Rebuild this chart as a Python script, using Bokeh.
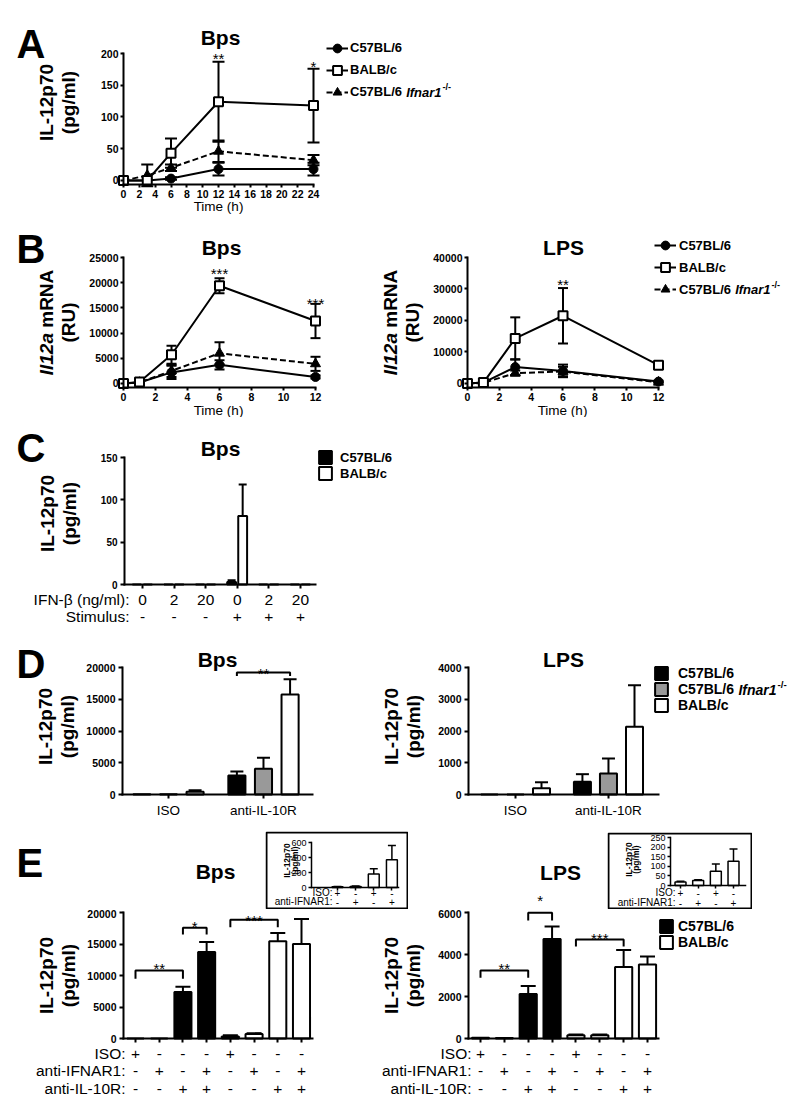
import math
from bokeh.plotting import figure
from bokeh.models import (Range1d, Label, Legend, LegendItem, Whisker, TeeHead,
                          ColumnDataSource, FixedTicker, Spacer, BoxAnnotation,
                          CustomJSTickFormatter)
from bokeh.layouts import column, row
from bokeh.embed import file_html
from bokeh.resources import INLINE

FONT = "Liberation Sans"
PI2 = math.pi / 2

# ====================== DATA ======================
# Panel A  (IL-12p70, pg/ml, Bps)
a_time = [0, 3, 6, 12, 24]
a_b6 = [0, 0, 3, 18, 18]
a_b6_sem = [0, 0, 2, 10, 10]
a_balb = [0, 0, 43, 124, 118]
a_balb_sem = [0, 0, 23, 63, 58]
a_ifnar = [0, 8, 20, 46, 32]
a_ifnar_sem = [0, 17, 5, 17, 8]
a_xticks = list(range(0, 25, 2))
a_yticks = [0, 50, 100, 150, 200]

# Panel B  (Il12a mRNA, RU)
b_time = [0, 1, 3, 6, 12]
b_bps_b6 = [0, 200, 2200, 3700, 1300]
b_bps_b6_sem = [0, 0, 1300, 900, 300]
b_bps_balb = [0, 300, 5700, 19400, 12400]
b_bps_balb_sem = [0, 100, 1800, 1500, 3400]
b_bps_ifnar = [0, 200, 2500, 6000, 3900]
b_bps_ifnar_sem = [0, 0, 1200, 2200, 1400]
b_lps_b6 = [0, 300, 5200, 4000, 600]
b_lps_b6_sem = [0, 0, 2500, 2000, 300]
b_lps_balb = [0, 300, 14300, 21500, 5800]
b_lps_balb_sem = [0, 0, 6700, 8800, 700]
b_lps_ifnar = [0, 200, 3300, 3800, 400]
b_lps_ifnar_sem = [0, 0, 800, 1500, 200]
b_xticks = [0, 2, 4, 6, 8, 10, 12]
b_bps_yticks = [0, 5000, 10000, 15000, 20000, 25000]
b_lps_yticks = [0, 10000, 20000, 30000, 40000]

# Panel C
c_ifn = ["0", "2", "20", "0", "2", "20"]
c_stim = ["-", "-", "-", "+", "+", "+"]
c_b6 = [0, 0, 0, 3, 0, 0]
c_b6_sem = [0, 0, 0, 2, 0, 0]
c_balb = [0, 0, 0, 81, 0, 0]
c_balb_sem = [0, 0, 0, 37, 0, 0]
c_yticks = [0, 50, 100, 150]

# Panel D
d_groups = ["ISO", "anti-IL-10R"]
d_bps_b6 = [30, 3000]
d_bps_b6_sem = [0, 620]
d_bps_ifnar = [30, 4050]
d_bps_ifnar_sem = [0, 1750]
d_bps_balb = [450, 15750]
d_bps_balb_sem = [200, 2400]
d_lps_b6 = [0, 400]
d_lps_b6_sem = [0, 240]
d_lps_ifnar = [0, 660]
d_lps_ifnar_sem = [0, 470]
d_lps_balb = [200, 2130]
d_lps_balb_sem = [185, 1310]
d_bps_yticks = [0, 5000, 10000, 15000, 20000]
d_lps_yticks = [0, 1000, 2000, 3000, 4000]

# Panel E
e_iso = ["+", "-", "-", "-", "+", "-", "-", "-"]
e_ifnar = ["-", "+", "-", "+", "-", "+", "-", "+"]
e_il10r = ["-", "-", "+", "+", "-", "-", "+", "+"]
e_bps = [0, 0, 7400, 13750, 300, 700, 15450, 15000]
e_bps_sem = [0, 0, 800, 1550, 200, 150, 1300, 3950]
e_lps = [30, 20, 2120, 4740, 150, 150, 3400, 3520]
e_lps_sem = [0, 0, 380, 590, 40, 40, 820, 380]
e_bps_yticks = [0, 5000, 10000, 15000, 20000]
e_lps_yticks = [0, 2000, 4000, 6000]
# significance brackets: (bar from, bar to, top value, leg end value, label)
e_bps_brackets = [(0, 2, 10800, 9500, "**"), (2, 3, 17570, 16500, "*"), (4, 6, 18840, 17670, "***")]
e_lps_brackets = [(0, 2, 3240, 2890, "**"), (2, 3, 5985, 5620, "*"), (4, 6, 4715, 4380, "***")]
d_bps_bracket = (1 - 0.28, 1 + 0.28, 19200, 18650, "**")

# Insets (BALB/c)
inset_iso = ["+", "-", "+", "-"]
inset_ifnar = ["-", "+", "-", "+"]
inset_bps = [10, 15, 180, 370]
inset_bps_sem = [5, 5, 70, 190]
inset_lps = [18, 26, 74, 126]
inset_lps_sem = [4, 4, 38, 64]
inset_bps_yticks = [0, 200, 400, 600]
inset_lps_yticks = [0, 50, 100, 150, 200, 250]


# ====================== HELPERS ======================
class Pan:
    """A figure whose drawing area is the whole canvas; the 'plot frame' (fl,ft,fr,fb)
    maps the ranges xr, yr and the axes are pinned to it with fixed_location."""

    def __init__(self, ox, oy, w, h, frame=None, xr=None, yr=None, axes=True):
        if frame is None:
            frame = (ox, oy, ox + w, oy + h)
        if xr is None:
            xr = (0, w)
        if yr is None:
            yr = (0, h)
        self.ox, self.oy, self.w, self.h = ox, oy, w, h
        self.fl, self.ft, self.fr, self.fb = frame
        self.xr, self.yr = xr, yr
        kw = {}
        if not axes:
            kw = dict(x_axis_location=None, y_axis_location=None)
        p = figure(width=w, height=h,
                   x_range=Range1d(self.X(ox), self.X(ox + w)),
                   y_range=Range1d(self.Y(oy + h), self.Y(oy)),
                   min_border_left=0, min_border_right=0,
                   min_border_top=0, min_border_bottom=0,
                   toolbar_location=None, tools="", output_backend="svg", **kw)
        p.outline_line_color = None
        p.grid.visible = False
        p.border_fill_color = None
        p.background_fill_color = None
        self.p = p

    def X(self, sx):
        return self.xr[0] + (sx - self.fl) / (self.fr - self.fl) * (self.xr[1] - self.xr[0])

    def Y(self, sy):
        return self.yr[0] + (self.fb - sy) / (self.fb - self.ft) * (self.yr[1] - self.yr[0])

    def SX(self, x):
        return self.fl + (x - self.xr[0]) / (self.xr[1] - self.xr[0]) * (self.fr - self.fl)

    def pin_axes(self, yaxis_x, xaxis_y, xbounds, ybounds):
        self.p.yaxis.fixed_location = yaxis_x
        self.p.xaxis.fixed_location = xaxis_y
        self.p.xaxis.bounds = xbounds
        self.p.yaxis.bounds = ybounds

    def lab(self, x, y, text, size, style="normal", align="center", baseline="middle",
            angle=0, xdata=False):
        xx = x if xdata else self.X(x)
        self.p.add_layout(Label(x=xx, y=self.Y(y), text=text, text_font=FONT,
                                text_font_size=f"{size}px", text_font_style=style,
                                text_align=align, text_baseline=baseline, angle=angle,
                                text_color="black"))


def style_axes(p, size=10.5, style="bold", lw=2, tick_out=4, standoff=3):
    for ax in p.axis:
        ax.axis_line_width = lw
        ax.axis_line_color = "black"
        ax.axis_line_cap = "square"
        ax.major_tick_line_width = lw
        ax.major_tick_line_color = "black"
        ax.major_tick_in = 0
        ax.major_tick_out = tick_out
        ax.minor_tick_line_color = None
        ax.major_label_text_font = FONT
        ax.major_label_text_font_size = f"{size}px"
        ax.major_label_text_font_style = style
        ax.major_label_text_color = "black"
        ax.major_label_standoff = standoff


def line_series(pan, x, y, sem, marker, fill, dash, size, cap):
    idx = [i for i, s in enumerate(sem) if s > 0]
    if idx:
        wsrc = ColumnDataSource(dict(x=[x[i] for i in idx],
                                     lo=[y[i] - sem[i] for i in idx],
                                     hi=[y[i] + sem[i] for i in idx]))
        pan.p.add_layout(Whisker(source=wsrc, base="x", lower="lo", upper="hi",
                                 dimension="height", line_color="black", line_width=2,
                                 upper_head=TeeHead(size=cap, line_width=2, line_color="black"),
                                 lower_head=TeeHead(size=cap, line_width=2, line_color="black")))
    src = ColumnDataSource(dict(x=x, y=y))
    lr = pan.p.line("x", "y", source=src, line_color="black", line_width=2, line_dash=dash)
    sr = pan.p.scatter("x", "y", source=src, marker=marker, size=size, fill_color=fill,
                       line_color="black", line_width=2 if fill == "white" else 1)
    return [lr, sr]


def bar_series(pan, x, tops, sems, width, fill, lw=2, cap=12):
    src = ColumnDataSource(dict(x=x, top=tops))
    r = pan.p.vbar(x="x", top="top", bottom=0, width=width, source=src,
                   fill_color=fill, line_color="black", line_width=lw)
    idx = [i for i, s in enumerate(sems) if s > 0]
    if idx:
        wsrc = ColumnDataSource(dict(x=[x[i] for i in idx], lo=[tops[i] for i in idx],
                                     hi=[tops[i] + sems[i] for i in idx]))
        pan.p.add_layout(Whisker(source=wsrc, base="x", lower="lo", upper="hi",
                                 dimension="height", line_color="black", line_width=lw,
                                 lower_head=None,
                                 upper_head=TeeHead(size=cap, line_width=lw, line_color="black")))
    return r


def add_legend(pan, items, left, first_cy, pitch, gw, gh, fs, standoff):
    n = len(items)
    spacing = pitch - gh
    height = n * gh + (n - 1) * spacing
    top = first_cy - gh / 2
    bottom = top + height
    lg = Legend(items=items, location=(left - pan.ox, pan.oy + pan.h - bottom),
                orientation="vertical",
                glyph_width=gw, glyph_height=gh, label_height=gh, label_standoff=standoff,
                spacing=spacing, padding=0, margin=0, border_line_color=None,
                background_fill_alpha=0, label_text_font=FONT, label_text_font_style="bold",
                label_text_font_size=f"{fs}px", label_text_color="black")
    pan.p.add_layout(lg)
    return left + gw + standoff


def ifnar_suffix(pan, text_x, cy, fs):
    x = text_x + (4.001 + 0.278) * fs
    pan.lab(x, cy, "Ifnar1", fs, "bold italic", align="left")
    x2 = x + 2.723 * fs + 1
    pan.lab(x2, cy - fs * 0.35, "-/-", round(fs * 0.7, 1), "bold", align="left")


def ylab(pan, axis_sx, cy, line2, line1="IL-12p70", italic=None, size=19):
    x1 = axis_sx - 77
    x2 = axis_sx - 55
    if italic is None:
        pan.lab(x1, cy, line1, size, "bold", angle=PI2)
    else:
        w1 = 2.224 * size
        ws = 0.278 * size
        w2 = 3.055 * size
        start = cy + (w1 + ws + w2) / 2
        pan.lab(x1, start, italic, size, "bold italic", align="left", angle=PI2)
        pan.lab(x1, start - w1 - ws, line1, size, "bold", align="left", angle=PI2)
    pan.lab(x2, cy, line2, size, "bold", angle=PI2)


def blank_x(p, ticks):
    p.xaxis.ticker = FixedTicker(ticks=ticks)
    p.xaxis.formatter = CustomJSTickFormatter(code="return ''")


def bracket(pan, x1, x2, top, leg):
    pan.p.multi_line(xs=[[x1, x1, x2, x2]], ys=[[leg, top, top, leg]],
                     line_color="black", line_width=2)


# ====================== PANEL A ======================
A = Pan(0, 0, 800, 222, frame=(120, 53, 313, 184), xr=(-0.38, 24), yr=(-6.3, 200))
rA = []
rA.append(line_series(A, a_time, a_b6, a_b6_sem, "circle", "black", "solid", 9, 12))
rA.append(line_series(A, a_time, a_ifnar, a_ifnar_sem, "triangle", "black", "6 3", 10, 12))
rA.append(line_series(A, a_time, a_balb, a_balb_sem, "square", "white", "solid", 9, 12))
style_axes(A.p, tick_out=3, standoff=2)
A.p.xaxis.ticker = FixedTicker(ticks=a_xticks)
A.p.yaxis.ticker = FixedTicker(ticks=a_yticks)
A.pin_axes(0, -6.3, (0, 24), (-6.3, 200))
A.lab(16, 43, "A", 40, "bold", align="left", baseline="alphabetic")
A.lab(220, 37, "Bps", 21, "bold", baseline="alphabetic")
A.lab(218, 206, "Time (h)", 13.5)
ylab(A, 123, 102, "(pg/ml)")
A.lab(12, 58, "**", 15, baseline="alphabetic", xdata=True)
A.lab(24, 66, "*", 15, baseline="alphabetic", xdata=True)
tx = add_legend(A, [LegendItem(label="C57BL/6", renderers=rA[0]),
                    LegendItem(label="BALB/c", renderers=rA[2]),
                    LegendItem(label="C57BL/6", renderers=rA[1])],
                326, 61.5, 15, 22, 22, 13, 2)
ifnar_suffix(A, tx, 61.5 + 30, 13)

# ====================== PANEL B ======================
BL = Pan(0, 222, 372, 195, frame=(120, 257, 315, 387), xr=(-0.1875, 12), yr=(-794, 25000))
line_series(BL, b_time, b_bps_b6, b_bps_b6_sem, "circle", "black", "solid", 9, 10)
line_series(BL, b_time, b_bps_ifnar, b_bps_ifnar_sem, "triangle", "black", "6 3", 10, 10)
line_series(BL, b_time, b_bps_balb, b_bps_balb_sem, "square", "white", "solid", 9, 10)
style_axes(BL.p, tick_out=3, standoff=2)
BL.p.xaxis.ticker = FixedTicker(ticks=b_xticks)
BL.p.yaxis.ticker = FixedTicker(ticks=b_bps_yticks)
BL.pin_axes(0, -794, (0, 12), (-794, 25000))
BL.lab(16, 248, "B", 40, "bold", align="left", baseline="alphabetic")
BL.lab(221, 247, "Bps", 21, "bold", baseline="alphabetic")
BL.lab(218, 410, "Time (h)", 13.5)
ylab(BL, 123, 322, "(RU)", line1="mRNA", italic="Il12a")
BL.lab(6, 273, "***", 15, baseline="alphabetic", xdata=True)
BL.lab(12, 303, "***", 15, baseline="alphabetic", xdata=True)

BR = Pan(372, 222, 428, 195, frame=(464, 257, 658, 387), xr=(-0.188, 12), yr=(-1270, 40000))
rB = []
rB.append(line_series(BR, b_time, b_lps_b6, b_lps_b6_sem, "circle", "black", "solid", 9, 10))
rB.append(line_series(BR, b_time, b_lps_ifnar, b_lps_ifnar_sem, "triangle", "black", "6 3", 10, 10))
rB.append(line_series(BR, b_time, b_lps_balb, b_lps_balb_sem, "square", "white", "solid", 9, 10))
style_axes(BR.p, tick_out=3, standoff=2)
BR.p.xaxis.ticker = FixedTicker(ticks=b_xticks)
BR.p.yaxis.ticker = FixedTicker(ticks=b_lps_yticks)
BR.pin_axes(0, -1270, (0, 12), (-1270, 40000))
BR.lab(563, 247, "LPS", 21, "bold", baseline="alphabetic")
BR.lab(562, 410, "Time (h)", 13.5)
ylab(BR, 467, 322, "(RU)", line1="mRNA", italic="Il12a")
BR.lab(6, 284, "**", 15, baseline="alphabetic", xdata=True)
tx = add_legend(BR, [LegendItem(label="C57BL/6", renderers=rB[0]),
                     LegendItem(label="BALB/c", renderers=rB[2]),
                     LegendItem(label="C57BL/6", renderers=rB[1])],
                654, 259, 15, 22, 22, 13, 3)
ifnar_suffix(BR, tx, 259 + 30, 13)

# ====================== PANEL C ======================
C = Pan(0, 417, 800, 211, frame=(124, 457, 315, 584), xr=(-0.57, 5.475), yr=(0, 150))
cx = list(range(len(c_ifn)))
rc1 = bar_series(C, [i - 0.18 for i in cx], c_b6, c_b6_sem, 0.28, "black", cap=8)
rc2 = bar_series(C, [i + 0.17 for i in cx], c_balb, c_balb_sem, 0.28, "white", cap=8)
style_axes(C.p, size=10, tick_out=4, standoff=3)
C.p.yaxis.ticker = FixedTicker(ticks=c_yticks)
blank_x(C.p, cx)
C.pin_axes(-0.57, 0, (-0.57, 5.475), (0, 150))
C.lab(16, 447, "C", 40, "bold", align="left", baseline="alphabetic")
C.lab(220, 448, "Bps", 21, "bold", baseline="alphabetic")
ylab(C, 124, 513, "(pg/ml)")
C.lab(129, 599, "IFN-\u03b2 (ng/ml):", 15.5, align="right")
C.lab(129, 616, "Stimulus:", 15.5, align="right")
for i in cx:
    C.lab(i, 599, c_ifn[i], 15.5, xdata=True)
    C.lab(i, 616, c_stim[i], 15.5, xdata=True)
add_legend(C, [LegendItem(label="C57BL/6", renderers=[rc1]),
               LegendItem(label="BALB/c", renderers=[rc2])],
           317, 459, 14, 16, 16, 13, 7)

# ====================== PANEL D ======================
doff = [-0.28, 0, 0.28]
gx = list(range(len(d_groups)))
DL = Pan(0, 628, 372, 194, frame=(122, 667, 312, 794), xr=(-0.484, 1.516), yr=(0, 20000))
bar_series(DL, [g + doff[0] for g in gx], d_bps_b6, d_bps_b6_sem, 0.18, "black", cap=13)
bar_series(DL, [g + doff[1] for g in gx], d_bps_ifnar, d_bps_ifnar_sem, 0.18, "#999999", cap=13)
bar_series(DL, [g + doff[2] for g in gx], d_bps_balb, d_bps_balb_sem, 0.18, "white", cap=13)
style_axes(DL.p)
DL.p.yaxis.ticker = FixedTicker(ticks=d_bps_yticks)
blank_x(DL.p, gx)
DL.pin_axes(-0.484, 0, (-0.484, 1.516), (0, 20000))
DL.lab(16, 663, "D", 40, "bold", align="left", baseline="alphabetic")
DL.lab(217, 659, "Bps", 21, "bold", baseline="alphabetic")
ylab(DL, 122, 726, "(pg/ml)")
for g in gx:
    DL.lab(g, 810, d_groups[g], 13.5, xdata=True)
bracket(DL, d_bps_bracket[0], d_bps_bracket[1], d_bps_bracket[2], d_bps_bracket[3])
DL.lab(1, 673, d_bps_bracket[4], 15, baseline="alphabetic", xdata=True)

DR = Pan(372, 628, 428, 194, frame=(468, 667, 658, 794), xr=(-0.505, 1.538), yr=(0, 4000))
rd1 = bar_series(DR, [g + doff[0] for g in gx], d_lps_b6, d_lps_b6_sem, 0.183, "black", cap=13)
rd2 = bar_series(DR, [g + doff[1] for g in gx], d_lps_ifnar, d_lps_ifnar_sem, 0.183, "#999999", cap=13)
rd3 = bar_series(DR, [g + doff[2] for g in gx], d_lps_balb, d_lps_balb_sem, 0.183, "white", cap=13)
style_axes(DR.p)
DR.p.yaxis.ticker = FixedTicker(ticks=d_lps_yticks)
blank_x(DR.p, gx)
DR.pin_axes(-0.505, 0, (-0.505, 1.538), (0, 4000))
DR.lab(563, 659, "LPS", 21, "bold", baseline="alphabetic")
ylab(DR, 468, 726, "(pg/ml)")
for g in gx:
    DR.lab(g, 810, d_groups[g], 13.5, xdata=True)
tx = add_legend(DR, [LegendItem(label="C57BL/6", renderers=[rd1]),
                     LegendItem(label="C57BL/6", renderers=[rd2]),
                     LegendItem(label="BALB/c", renderers=[rd3])],
                653, 673, 16, 16, 16, 14, 9)
ifnar_suffix(DR, tx, 673 + 16, 14)

# ====================== PANEL E ======================
ex = list(range(len(e_bps)))

EL = Pan(0, 909, 372, 199, frame=(123, 912, 312, 1038), xr=(-0.506, 7.464), yr=(0, 20000))
bar_series(EL, ex[:4], e_bps[:4], e_bps_sem[:4], 0.72, "black", cap=15)
bar_series(EL, ex[4:], e_bps[4:], e_bps_sem[4:], 0.72, "white", cap=15)
style_axes(EL.p)
EL.p.yaxis.ticker = FixedTicker(ticks=e_bps_yticks)
blank_x(EL.p, ex)
EL.pin_axes(-0.506, 0, (-0.506, 7.464), (0, 20000))
ylab(EL, 123, 975, "(pg/ml)")
for (a, b, top, leg, s), by in zip(e_bps_brackets, [968, 926, 920]):
    bracket(EL, a, b, top, leg)
    EL.lab((a + b) / 2, by, s, 15, baseline="alphabetic", xdata=True)
for lbl, vals, yy in [("ISO:", e_iso, 1053), ("anti-IFNAR1:", e_ifnar, 1070), ("anti-IL-10R:", e_il10r, 1088)]:
    EL.lab(125, yy, lbl, 15.5, align="right")
    for i in ex:
        EL.lab(i, yy, vals[i], 15.5, xdata=True)

ER = Pan(372, 909, 428, 199, frame=(468, 912, 658, 1038), xr=(-0.503, 7.461), yr=(0, 6000))
re1 = bar_series(ER, ex[:4], e_lps[:4], e_lps_sem[:4], 0.72, "black", cap=15)
re2 = bar_series(ER, ex[4:], e_lps[4:], e_lps_sem[4:], 0.72, "white", cap=15)
style_axes(ER.p)
ER.p.yaxis.ticker = FixedTicker(ticks=e_lps_yticks)
blank_x(ER.p, ex)
ER.pin_axes(-0.503, 0, (-0.503, 7.461), (0, 6000))
ylab(ER, 468, 975, "(pg/ml)")
for (a, b, top, leg, s), by in zip(e_lps_brackets, [968, None, 938]):
    bracket(ER, a, b, top, leg)
    if by is not None:
        ER.lab((a + b) / 2, by, s, 15, baseline="alphabetic", xdata=True)
for lbl, vals, yy in [("ISO:", e_iso, 1053), ("anti-IFNAR1:", e_ifnar, 1070), ("anti-IL-10R:", e_il10r, 1088)]:
    ER.lab(471, yy, lbl, 15.5, align="right")
    for i in ex:
        ER.lab(i, yy, vals[i], 15.5, xdata=True)
add_legend(ER, [LegendItem(label="C57BL/6", renderers=[re1]),
                LegendItem(label="BALB/c", renderers=[re2])],
           658, 928, 14, 16, 16, 14, 4)

# header strip above panel E (letter, titles, top star)
HL = Pan(0, 822, 265, 87, axes=False)
HL.lab(16, 862, "E", 40, "bold", align="left", baseline="alphabetic")
HL.lab(215, 871, "Bps", 21, "bold", baseline="alphabetic")
HM = Pan(408, 822, 199, 87, axes=False)
HM.lab(560, 872, "LPS", 21, "bold", baseline="alphabetic")
a_, b_, _, _, s_ = e_lps_brackets[1]
HM.lab(ER.SX((a_ + b_) / 2), 908.5, s_, 15, baseline="bottom")

# insets
ix = list(range(len(inset_bps)))


def make_inset(ox, oy, w, h, frame, xr, yticks, vals, sems, width, lab_right, rows_y, ylab_x, ylab_cy):
    P = Pan(ox, oy, w, h, frame=frame, xr=xr, yr=(0, yticks[-1]))
    bar_series(P, ix, vals, sems, width, "white", lw=1.5, cap=8)
    style_axes(P.p, size=9, style="normal", lw=1.5, tick_out=3, standoff=2)
    P.p.yaxis.ticker = FixedTicker(ticks=yticks)
    blank_x(P.p, ix)
    P.pin_axes(xr[0], 0, xr, (0, yticks[-1]))
    P.lab(ylab_x[0], ylab_cy, "IL-12p70", 8.5, "bold", angle=PI2)
    P.lab(ylab_x[1], ylab_cy, "(pg/ml)", 8.5, "bold", angle=PI2)
    for lbl, rv, yy in [("ISO:", inset_iso, rows_y[0]), ("anti-IFNAR1:", inset_ifnar, rows_y[1])]:
        P.lab(lab_right, yy, lbl, 10, align="right")
        for i in ix:
            P.lab(i, yy, rv[i], 10, xdata=True)
    P.p.add_layout(BoxAnnotation(left=P.X(ox + 1), right=P.X(ox + w - 1),
                                 top=P.Y(oy + 1), bottom=P.Y(oy + h - 1),
                                 fill_alpha=0, line_color="black", line_alpha=1.0,
                                 line_width=2, level="overlay"))
    return P


IL = make_inset(265, 831, 143, 78, (311, 842, 398, 887), (-1.434, 3.364), inset_bps_yticks,
                inset_bps, inset_bps_sem, 0.6, 332, (892, 901), (286, 294), 860)
IR = make_inset(607, 832, 145, 77, (670, 837, 745, 885), (-0.566, 3.679), inset_lps_yticks,
                inset_lps, inset_lps_sem, 0.62, 675, (892, 902), (628, 635), 859)

# ====================== LAYOUT ======================
rowA = A.p
rowB = row(BL.p, BR.p)
rowC = C.p
rowD = row(DL.p, DR.p)
rowE1 = row(HL.p, column(Spacer(width=143, height=9), IL.p), HM.p,
            column(Spacer(width=145, height=10), IR.p), Spacer(width=48, height=87))
rowE2 = row(EL.p, ER.p)
layout = column(rowA, rowB, rowC, rowD, rowE1, rowE2)

open("out.html", "w").write(file_html(layout, INLINE))
